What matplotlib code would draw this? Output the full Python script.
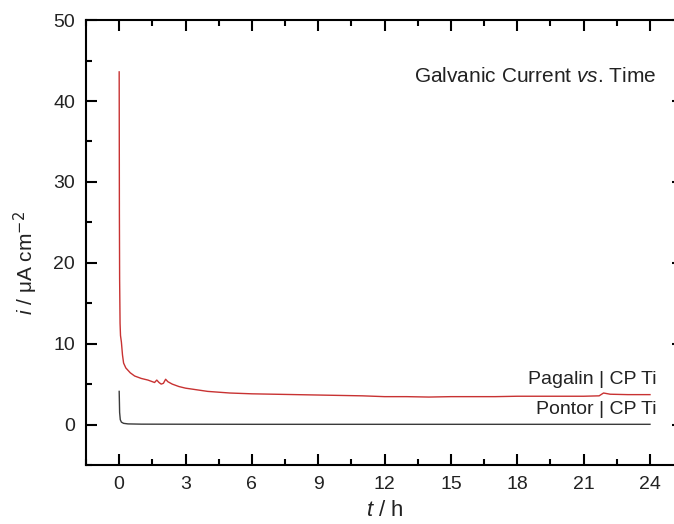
import matplotlib
matplotlib.use('Agg')
import matplotlib.pyplot as plt
from matplotlib.ticker import MultipleLocator

plt.rcParams['font.family'] = ['Liberation Sans', 'DejaVu Sans']
plt.rcParams['mathtext.fontset'] = 'custom'
plt.rcParams['mathtext.rm'] = 'Liberation Sans'
plt.rcParams['mathtext.it'] = 'Liberation Sans:italic'

# Pagalin | CP Ti galvanic current (uA/cm2) vs time (h)
t_pag = [0.0, 0.005, 0.01, 0.02, 0.04, 0.06, 0.1, 0.15, 0.2, 0.3, 0.4, 0.5, 0.7, 1.0,
         1.3, 1.6, 1.7, 1.8, 1.9, 2.0, 2.1, 2.2, 2.4, 2.7, 3.0, 3.5, 4.0, 5.0, 6.0,
         7.0, 8.0, 9.0, 10.0, 11.0, 12.0, 13.0, 14.0, 15.0, 16.0, 17.0, 18.0, 19.0,
         20.0, 21.0, 21.7, 21.9, 22.2, 23.0, 24.0]
i_pag = [43.6, 35.0, 26.0, 18.0, 12.5, 11.0, 10.2, 8.6, 7.6, 7.0, 6.7, 6.4, 6.0, 5.7,
         5.5, 5.2, 5.5, 5.2, 5.0, 5.1, 5.6, 5.3, 5.0, 4.7, 4.5, 4.3, 4.1, 3.9, 3.8,
         3.75, 3.7, 3.65, 3.6, 3.55, 3.45, 3.45, 3.4, 3.45, 3.45, 3.45, 3.5, 3.5,
         3.5, 3.5, 3.55, 3.9, 3.75, 3.7, 3.7]

# Pontor | CP Ti
t_pon = [0.0, 0.005, 0.02, 0.05, 0.1, 0.2, 0.4, 1.0, 3.0, 6.0, 12.0, 18.0, 24.0]
i_pon = [4.1, 3.5, 1.5, 0.6, 0.3, 0.15, 0.08, 0.05, 0.04, 0.03, 0.03, 0.03, 0.03]

fig = plt.figure(figsize=(6.74, 5.24), dpi=100)
ax = fig.add_axes([0.1276, 0.1126, 0.886, 0.849])

ax.plot(t_pag, i_pag, color='#c83232', lw=1.0)
ax.plot(t_pon, i_pon, color='#3a3a3a', lw=1.0)

ax.set_xlim(-1.5, 25.5)
ax.set_ylim(-5, 50)
ax.xaxis.set_major_locator(MultipleLocator(3))
ax.xaxis.set_minor_locator(MultipleLocator(1.5))
ax.yaxis.set_major_locator(MultipleLocator(10))
ax.yaxis.set_minor_locator(MultipleLocator(5))
ax.tick_params(which='both', direction='in', top=True, right=True, width=1.5,
               labelsize=14, pad=8, labelcolor='#222222')
ax.tick_params(which='major', length=8)
ax.tick_params(which='minor', length=4)
for s in ax.spines.values():
    s.set_linewidth(1.5)

ax.set_xlabel(r'$\it{t}$ / h', fontsize=16, labelpad=5, color='#222222')
ax.set_ylabel(r'$\it{i}$ / μA cm$^{\mathsf{-2}}$', fontsize=15, color='#222222')
ax.yaxis.set_label_coords(-0.077, 0.455)

ax.text(24.3, 43.0, r'Galvanic Current $\it{vs}$. Time', fontsize=15,
        ha='right', va='center', color='#222222')
ax.text(24.3, 4.5, 'Pagalin | CP Ti', fontsize=14, ha='right', va='bottom',
        color='#222222')
ax.text(24.3, 1.8, 'Pontor | CP Ti', fontsize=14, ha='right', va='center',
        color='#222222')

fig.savefig('out.png', dpi=100)
